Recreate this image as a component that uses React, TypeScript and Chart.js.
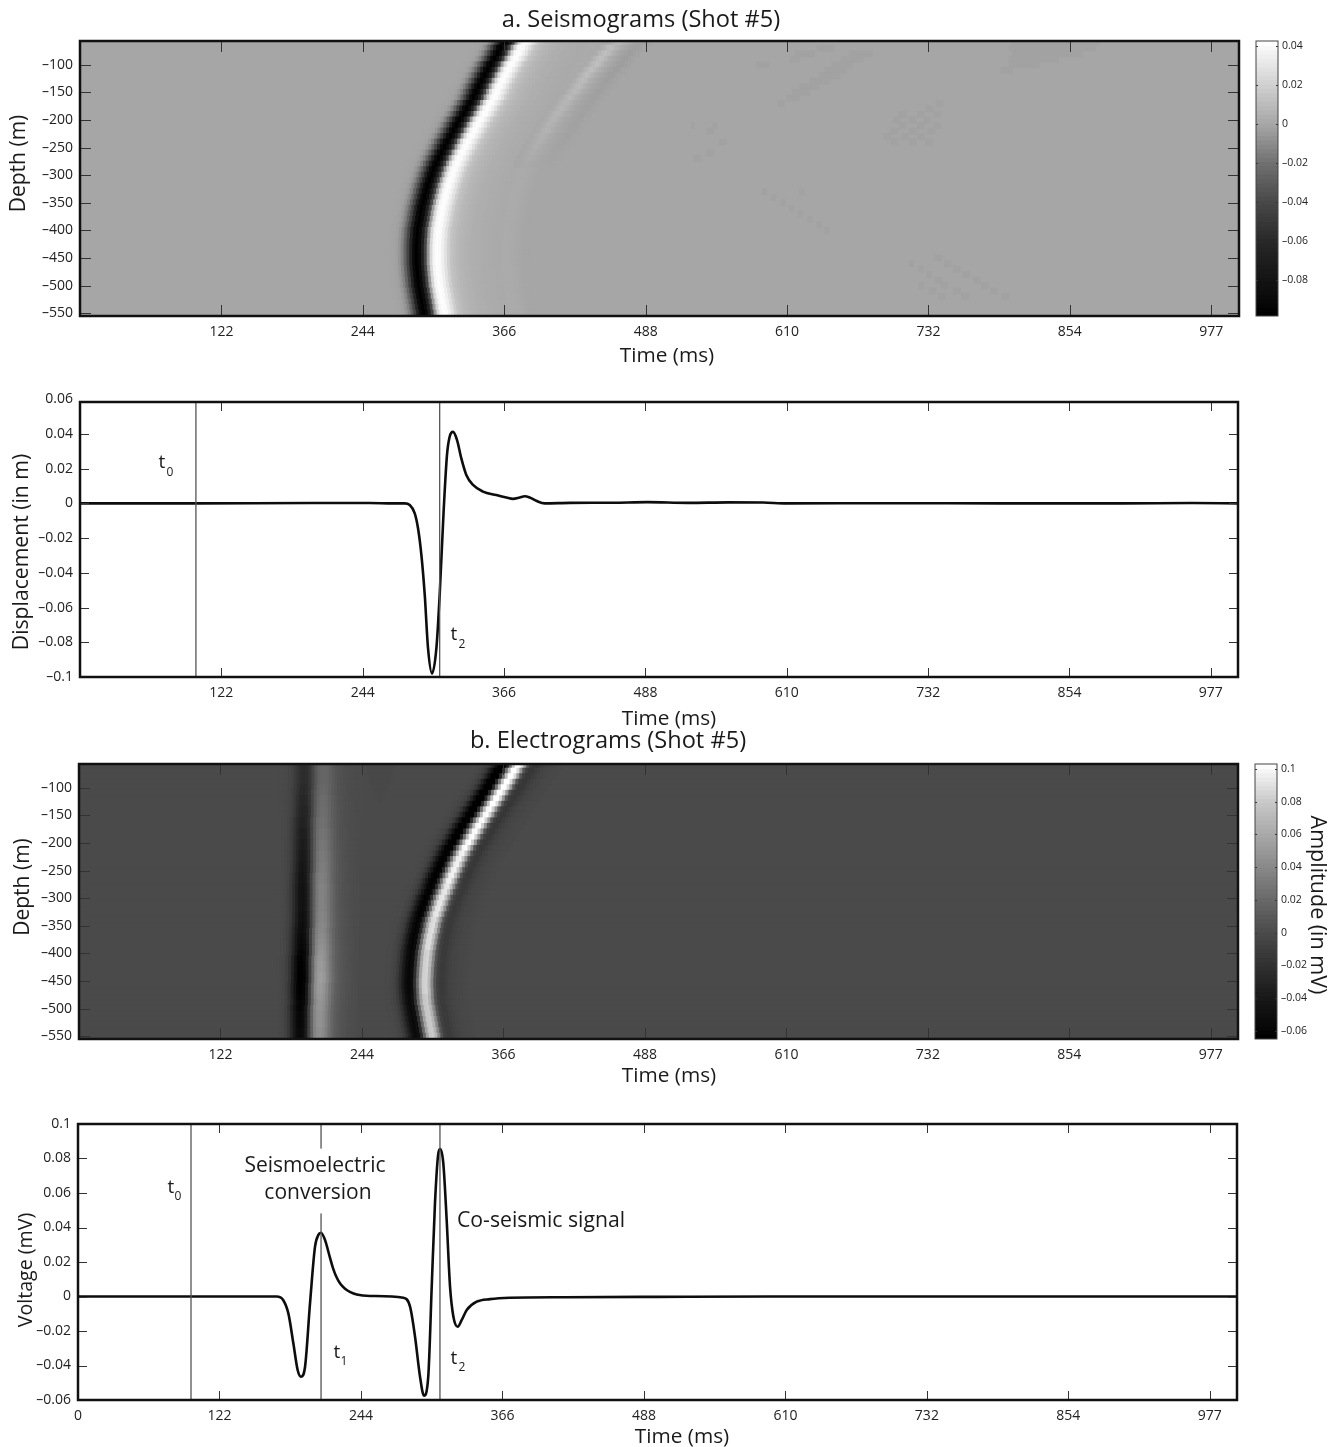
import React, { useEffect, useRef } from "react";
import { Chart, registerables } from "chart.js";

Chart.register(...registerables);

const FONT = '"Open Sans", "Noto Sans", sans-serif';

const timeTicks = [122.07, 244.14, 366.21, 488.28, 610.35, 732.42, 854.49, 976.56];
const timeLabels = ["122", "244", "366", "488", "610", "732", "854", "977"];
const timeTicksZero = [0, ...timeTicks];
const timeLabelsZero = ["0", ...timeLabels];
const depthTicks = [-100, -150, -200, -250, -300, -350, -400, -450, -500, -550];
const displacementTicks = [0.06, 0.04, 0.02, 0, -0.02, -0.04, -0.06, -0.08, -0.1];
const voltageTicks = [0.1, 0.08, 0.06, 0.04, 0.02, 0, -0.02, -0.04, -0.06];
const seisBarTicks = [0.04, 0.02, 0, -0.02, -0.04, -0.06, -0.08];
const elecBarTicks = [0.1, 0.08, 0.06, 0.04, 0.02, 0, -0.02, -0.04, -0.06];

const depthRows = [
  -60, -70, -80, -90, -100, -110, -120, -130, -140, -150, -160, -170, -180, -190, -200, -210, -220,
  -230, -240, -250, -260, -270, -280, -290, -300, -310, -320, -330, -340, -350, -360, -370, -380,
  -390, -400, -410, -420, -430, -440, -450, -460, -470, -480, -490, -500, -510, -520, -530, -540, -550,
];

// Seismograms: arrival (trough time, ms) read per depth row
const seisArrival = [
  366.7, 363.2, 360.7, 358, 354.6, 352, 349.4, 346.9, 344.3, 342.1, 340, 336.9, 333.9, 331.3, 327.9,
  325.3, 322.7, 320.1, 317.1, 314.9, 312.3, 309.8, 307.6, 305.4, 303.7, 302, 300.3, 299, 297.7, 296.4,
  295.1, 294.2, 293.4, 292.5, 291.6, 291.4, 291, 290.8, 290.8, 290.8, 290.8, 291.2, 291.6, 292.1,
  292.5, 293.4, 294.2, 295.1, 295.9, 296.8,
];
const seisWavelet = [
  [-25, 0], [-22.5, -0.0003], [-20, -0.0007], [-17.5, -0.002], [-15, -0.0057], [-12.5, -0.013],
  [-10, -0.026], [-7.5, -0.043], [-5, -0.067], [-2.5, -0.09], [0, -0.0994], [2.5, -0.09], [5, -0.07],
  [7.5, -0.041], [10, -0.005], [12.5, 0.024], [15, 0.038], [17.5, 0.0415], [20, 0.04], [22.5, 0.035],
  [25, 0.028], [27.5, 0.02], [30, 0.014], [32.5, 0.0112], [35, 0.009], [37.5, 0.0075], [40, 0.0065],
  [42.5, 0.0057], [45, 0.005], [47.5, 0.0045], [50, 0.004], [52.5, 0.0036], [55, 0.0033],
  [57.5, 0.003], [60, 0.0028], [62.5, 0.0025], [65, 0.0022], [67.5, 0.002], [70, 0.0018],
  [72.5, 0.002], [75, 0.0022], [77.5, 0.0024], [80, 0.0022], [82.5, 0.0018], [85, 0.0014],
  [87.5, 0.001], [90, 0.0006], [92.5, 0.0002], [95, 0],
];
const ghostArrival = [
  465.2, 458.3, 454, 449.6, 446.2, 441.9, 437.6, 434.1, 430.7, 427.2, 422.9, 419.4, 416, 412.5, 409.1,
  405.6, 403, 399.6, 397, 393.5, 391, 388.4, 385.8,
];
const ghostGain = [
  0.75, 0.9, 1, 1, 1, 0.95, 0.9, 0.85, 0.8, 0.75, 0.7, 0.65, 0.6, 0.6, 0.55, 0.5, 0.5, 0.45, 0.4, 0.35,
  0.3, 0.25, 0.15,
];
const ghostWavelet = [
  [-10, 0.002], [-7.5, 0.004], [-5, 0.007], [-2.5, 0.01], [0, 0.012], [2.5, 0.01], [5, 0.007],
  [7.5, 0.004], [10, 0.002], [12.5, 0], [15, -0.001], [17.5, -0.002], [20, -0.003], [22.5, -0.003],
  [25, -0.002], [27.5, -0.001],
];
// faint patches: [depth, start ms, end ms]
const seisPatches = [
  [-80, 664, 684], [-90, 657, 676], [-100, 649, 667], [-110, 643, 662], [-120, 638, 656], [-130, 630, 647],
  [-140, 621, 638], [-150, 615, 630], [-160, 610, 621], [-170, 602, 608],
  [-60, 804, 880], [-70, 802, 877], [-80, 805, 865], [-90, 802, 845], [-100, 802, 828], [-110, 795, 805],
  [-70, 636, 651], [-80, 617, 634], [-90, 613, 621], [-100, 584, 595],
  [-170, 739, 745], [-180, 730, 736], [-190, 723, 729], [-190, 737, 743], [-190, 707, 713],
  [-200, 702, 708], [-200, 716, 722], [-200, 728, 734], [-210, 707, 713], [-210, 723, 729], [-210, 737, 743],
  [-220, 700, 706], [-220, 716, 722], [-220, 732, 738], [-230, 694, 700], [-230, 709, 715], [-230, 723, 729],
  [-240, 700, 706], [-240, 716, 722], [-240, 730, 736],
  [-210, 546, 550], [-210, 528, 530], [-220, 541, 547], [-240, 552, 558], [-260, 541, 547], [-270, 530, 536],
  [-330, 589, 593], [-330, 621, 625], [-340, 597, 601], [-350, 605, 609], [-360, 612, 616], [-370, 620, 624],
  [-380, 628, 632], [-390, 636, 640], [-400, 643, 647],
  [-450, 738, 744], [-460, 746, 752], [-460, 716, 720], [-470, 754, 760], [-470, 724, 728], [-480, 762, 768],
  [-480, 731, 735], [-490, 771, 777], [-490, 738, 744], [-500, 778, 784], [-500, 743, 749], [-500, 724, 728],
  [-510, 786, 792], [-510, 754, 760], [-510, 733, 739], [-520, 796, 802], [-520, 761, 767], [-520, 741, 747],
];

// Electrograms
const conversionArrival = [
  194.5, 194.5, 194.5, 194.5, 194.5, 194, 194, 194, 194, 194, 193.5, 193.5, 193.5, 193.5, 193.5, 193.5,
  193.5, 193.5, 193.5, 193.5, 193, 193, 193, 193, 193, 193, 193, 193, 193, 193, 192.5, 192.5, 192.5,
  192.5, 192.5, 192, 192, 192, 192, 192, 191.5, 191.5, 191.5, 191.5, 191, 191, 191, 191, 191, 191,
];
const conversionGain = [
  0.5, 0.5, 0.5, 0.5, 0.55, 0.55, 0.6, 0.6, 0.65, 0.65, 0.7, 0.7, 0.75, 0.75, 0.8, 0.8, 0.85, 0.85, 0.9,
  0.9, 0.95, 0.95, 1, 1, 1, 1, 1, 1.05, 1.05, 1.1, 1.1, 1.15, 1.2, 1.25, 1.3, 1.35, 1.4, 1.4, 1.45, 1.45,
  1.4, 1.4, 1.35, 1.3, 1.3, 1.25, 1.25, 1.25, 1.2, 1.2,
];
const conversionWavelet = [
  [-20, -0.0002], [-17.5, -0.001], [-15, -0.0025], [-12.5, -0.006], [-10, -0.012], [-7.5, -0.023],
  [-5, -0.034], [-2.5, -0.044], [0, -0.0465], [2.5, -0.043], [5, -0.03], [7.5, -0.006], [10, 0.014],
  [12.5, 0.03], [15, 0.036], [17.5, 0.037], [20, 0.034], [22.5, 0.028], [25, 0.021], [27.5, 0.015],
  [30, 0.01], [32.5, 0.0075], [35, 0.0055], [37.5, 0.0042], [40, 0.003], [42.5, 0.0022], [45, 0.0015],
  [47.5, 0.001],
];
const coseismicArrival = [
  365, 361.5, 358.9, 355.5, 352.9, 349.4, 346.4, 343.4, 340, 337.4, 333.9, 330.9, 327.9, 325.3, 322.3,
  319.2, 316.7, 314.1, 311.9, 309.8, 307.6, 305.4, 303.7, 301.6, 299.4, 297.7, 296, 294.2, 292.5, 291.2,
  290.3, 289, 288.2, 287.3, 286.5, 286, 285.6, 285.2, 285, 284.7, 284.7, 285, 285.2, 285.6, 286.5, 287.3,
  288.2, 289, 289.9, 290.8,
];
const coseismicGain = [
  1.25, 1.25, 1.25, 1.25, 1.25, 1.25, 1.25, 1.25, 1.2, 1.2, 1.2, 1.2, 1.2, 1.2, 1.2, 1.2, 1.15, 1.15, 1.15,
  1.15, 1.15, 1.15, 1.1, 1.1, 1.1, 1.1, 1.1, 1.1, 1.05, 1.05, 1.05, 1.05, 1.05, 1.05, 1, 1, 1, 1, 1, 1, 1,
  1, 0.95, 0.95, 0.95, 0.95, 0.95, 0.95, 0.95, 0.95,
];
const coseismicWavelet = [
  [-20, -0.0005], [-17.5, -0.001], [-15, -0.003], [-12.5, -0.0055], [-10, -0.012], [-7.5, -0.024],
  [-5, -0.038], [-2.5, -0.052], [0, -0.058], [2.5, -0.052], [5, -0.022], [7.5, 0.02], [10, 0.06],
  [12.5, 0.083], [15, 0.085], [17.5, 0.07], [20, 0.04], [22.5, 0.006], [25, -0.008], [27.5, -0.012],
  [30, -0.012], [32.5, -0.009], [35, -0.0065], [37.5, -0.0045], [40, -0.0035], [42.5, -0.0025], [45, -0.002],
  [47.5, -0.0015], [50, -0.001],
];
const elecPatches = [
  [-60, 248, 272], [-70, 249, 271], [-80, 250, 270], [-90, 252, 268], [-100, 254, 266], [-110, 256, 264],
  [-120, 258, 262],
];

// Traces
const displacementTrace = [
  [0, 0], [100, 0], [200, 0.0002], [250, 0.0002], [270, 0], [280.4, 0], [284.7, -0.0009], [289, -0.0056],
  [291.9, -0.0143], [294.8, -0.0296], [297.7, -0.0526], [300.5, -0.0831], [304, -0.098], [307.8, -0.0831],
  [310.6, -0.0526], [314, -0.0047], [316.9, 0.0278], [319.2, 0.0384], [322.1, 0.0412], [325.6, 0.0365],
  [329.3, 0.0259], [333.6, 0.0164], [339.4, 0.0106], [348, 0.0068], [359.5, 0.0048], [368.2, 0.0034],
  [373.9, 0.0026], [379.7, 0.0034], [384, 0.0041], [388.3, 0.0034], [394, 0.0015], [401.3, 0], [422.8, 0.0003],
  [460, 0.0004], [490, 0.0007], [525, 0.0003], [560, 0.0006], [590, 0.0005], [610, 0], [700, 0.0001], [800, 0],
  [900, 0], [960, 0.0002], [1000, 0],
];
const voltageTrace = [
  [0, 0], [100, 0], [171.3, 0], [177, -0.002], [181.5, -0.0098], [185.8, -0.0271], [189.5, -0.0426],
  [192.4, -0.0465], [195.9, -0.0407], [200.2, -0.0039], [204.5, 0.0289], [207.4, 0.0357], [209.7, 0.037],
  [213.1, 0.0328], [217.4, 0.0225], [220, 0.0165], [223.2, 0.011], [226.5, 0.0072], [230.4, 0.0045], [235, 0.0025],
  [240.5, 0.0011], [252, 0.0003],
  [280.7, -0.0007], [286.5, -0.0059], [290.8, -0.0233], [295.1, -0.0465], [298.5, -0.0575], [302.2, -0.0465],
  [305.2, 0.0057], [308, 0.054], [310.9, 0.083], [312.6, 0.0855], [315.2, 0.0772], [318.1, 0.0443],
  [321, 0.0057], [323.9, -0.0117], [327.6, -0.0175], [331.1, -0.0136], [335.4, -0.0078], [344, -0.003],
  [355.5, -0.0015], [372.7, -0.0007], [420, -0.0004], [500, -0.0002], [600, 0], [800, 0], [1000, 0],
];
const displacementMarkers = [100.1, 310.6];
const voltageMarkers = [97.5, 209.7, 312.3];

const seisStops = [
  [-0.0985, 0], [-0.06, 40], [-0.04, 72], [-0.02, 112], [0, 166], [0.02, 208], [0.0425, 255],
];
const elecStops = [
  [-0.065, 0], [-0.04, 24], [-0.02, 48], [0, 74], [0.02, 104], [0.04, 136], [0.06, 168], [0.08, 200], [0.103, 255],
];

function shade(v: number, stops: number[][]) {
  let g = stops[0][1];
  if (v >= stops[stops.length - 1][0]) g = stops[stops.length - 1][1];
  else
    for (let i = 0; i < stops.length - 1; i++) {
      const [a, ga] = stops[i];
      const [b, gb] = stops[i + 1];
      if (v >= a && v < b) g = ga + ((v - a) / (b - a)) * (gb - ga);
    }
  const c = Math.round(g);
  return `rgb(${c},${c},${c})`;
}

type Cells = { data: any[]; colors: string[] };

function pushCell(c: Cells, depth: number, a: number, b: number, v: number, stops: number[][]) {
  c.data.push({ x: [a, b], y: depth });
  c.colors.push(shade(v, stops));
}

function pushWave(c: Cells, times: number[], wavelet: number[][], gains: number[] | null, stops: number[][]) {
  times.forEach((t, i) => {
    const gain = gains ? gains[i] : 1;
    wavelet.forEach(([off, amp]) => {
      pushCell(c, depthRows[i], t + off - 1.25, t + off + 1.55, amp * gain, stops);
    });
  });
}

function seismogramCells() {
  const c: Cells = { data: [], colors: [] };
  depthRows.forEach((d) => pushCell(c, d, 0, 1001, 0, seisStops));
  seisPatches.forEach(([d, a, b]) => pushCell(c, d, a, b, -0.0015, seisStops));
  pushWave(c, seisArrival, seisWavelet, null, seisStops);
  pushWave(c, ghostArrival, ghostWavelet, ghostGain, seisStops);
  return c;
}

function electrogramCells() {
  const c: Cells = { data: [], colors: [] };
  depthRows.forEach((d) => pushCell(c, d, 0, 1001, 0, elecStops));
  elecPatches.forEach(([d, a, b]) => pushCell(c, d, a, b, -0.0015, elecStops));
  pushWave(c, conversionArrival, conversionWavelet, conversionGain, elecStops);
  pushWave(c, coseismicArrival, coseismicWavelet, coseismicGain, elecStops);
  return c;
}

function colorbarCells(min: number, max: number, stops: number[][]) {
  const c: Cells = { data: [], colors: [] };
  const n = 64;
  for (let i = 0; i < n; i++) {
    const v = min + ((i + 0.5) / n) * (max - min);
    pushCell(c, v, 0, 1, v, stops);
  }
  return c;
}

type Txt = {
  text: string;
  x: number;
  y: number;
  size: number;
  rot?: number;
  align?: CanvasTextAlign;
  bg?: boolean;
};

function overlay(items: Txt[], ox: number, oy: number, tickLen: number, frameW: number, frameColor: string) {
  return {
    id: "overlay",
    afterDatasetsDraw(chart: any) {
      const { ctx, chartArea: a, scales } = chart;
      ctx.save();
      ctx.strokeStyle = "#333";
      ctx.lineWidth = 1;
      ctx.beginPath();
      const sx = scales.x;
      if (sx && sx.options.display !== false) {
        sx.ticks.forEach((t: any) => {
          const p = Math.round(sx.getPixelForValue(t.value)) + 0.5;
          if (p - a.left < 3) return;
          ctx.moveTo(p, a.top);
          ctx.lineTo(p, a.top + tickLen);
          ctx.moveTo(p, a.bottom);
          ctx.lineTo(p, a.bottom - tickLen);
        });
      }
      const sy = scales.y;
      sy.ticks.forEach((t: any) => {
        const p = Math.round(sy.getPixelForValue(t.value)) + 0.5;
        if (p - a.top < 3 || a.bottom - p < 1) return;
        ctx.moveTo(a.left, p);
        ctx.lineTo(a.left + tickLen, p);
        ctx.moveTo(a.right, p);
        ctx.lineTo(a.right - tickLen, p);
      });
      ctx.stroke();
      ctx.strokeStyle = frameColor;
      ctx.lineWidth = frameW;
      ctx.strokeRect(a.left, a.top, a.right - a.left, a.bottom - a.top);
      items.forEach((it) => {
        ctx.save();
        ctx.font = `${it.size}px ${FONT}`;
        ctx.textAlign = it.align || "center";
        ctx.textBaseline = "middle";
        ctx.translate(it.x - ox, it.y - oy);
        if (it.rot) ctx.rotate(it.rot);
        if (it.bg) {
          const w = ctx.measureText(it.text).width;
          ctx.fillStyle = "#fff";
          ctx.fillRect(-w / 2 - 2, -it.size * 0.85, w + 4, it.size * 1.8);
        }
        ctx.fillStyle = "#1a1a1a";
        ctx.fillText(it.text, 0, 0);
        ctx.restore();
      });
      ctx.restore();
    },
  };
}

type PlotBox = { left: number; right: number; top: number; bottom: number };
type Band = { top: number; height: number };
const MAIN_WIDTH = 1245;
const AXIS_W = 60;
const AXIS_H = 30;

function tickFmt(v: number) {
  return String(v).replace("-", "\u2013");
}

function mainOptions(
  box: PlotBox,
  band: Band,
  yMin: number,
  yMax: number,
  yTicks: number[],
  xTicks: number[],
  xLabels: string[],
  xMax: number,
  indexY: boolean
) {
  const x: any = {
    type: "linear",
    min: 0,
    max: xMax,
    offset: false,
    grid: { display: false, drawTicks: false },
    border: { display: false },
    afterBuildTicks: (s: any) => {
      s.ticks = xTicks.map((value) => ({ value }));
    },
    afterFit: (s: any) => {
      s.height = AXIS_H;
    },
    ticks: {
      autoSkip: false,
      maxRotation: 0,
      minRotation: 0,
      padding: 8,
      color: "#222",
      font: { family: FONT, size: 14 },
      callback: (_v: any, i: number) => xLabels[i],
    },
  };
  const y: any = {
    type: "linear",
    min: yMin,
    max: yMax,
    offset: false,
    grid: { display: false, drawTicks: false },
    border: { display: false },
    afterBuildTicks: (s: any) => {
      s.ticks = yTicks.map((value) => ({ value }));
    },
    afterFit: (s: any) => {
      s.width = AXIS_W;
    },
    ticks: {
      autoSkip: false,
      padding: 7,
      color: "#222",
      font: { family: FONT, size: 14 },
      callback: (v: number) => tickFmt(v),
    },
  };
  return {
    indexAxis: indexY ? "y" : "x",
    responsive: false,
    maintainAspectRatio: false,
    animation: false,
    devicePixelRatio: 1,
    events: [],
    layout: {
      padding: {
        left: box.left - AXIS_W,
        right: MAIN_WIDTH - box.right,
        top: box.top - band.top,
        bottom: band.top + band.height - box.bottom - AXIS_H,
      },
    },
    plugins: { legend: { display: false }, tooltip: { enabled: false }, title: { display: false } },
    scales: { x, y },
  };
}

function colorbarOptions(box: PlotBox, band: Band, left: number, min: number, max: number, ticks: number[]) {
  const W = 60;
  return {
    indexAxis: "y",
    responsive: false,
    maintainAspectRatio: false,
    animation: false,
    devicePixelRatio: 1,
    events: [],
    layout: {
      padding: {
        left: box.left - left,
        right: 1339 - box.right - W,
        top: box.top - band.top,
        bottom: band.top + band.height - box.bottom,
      },
    },
    plugins: { legend: { display: false }, tooltip: { enabled: false } },
    scales: {
      x: { type: "linear", min: 0, max: 1, display: false },
      y: {
        type: "linear",
        position: "right",
        min,
        max,
        offset: false,
        grid: { display: false, drawTicks: false },
        border: { display: false },
        afterBuildTicks: (s: any) => {
          s.ticks = ticks.map((value) => ({ value }));
        },
        afterFit: (s: any) => {
          s.width = W;
        },
        ticks: {
          autoSkip: false,
          padding: 4,
          color: "#222",
          font: { family: FONT, size: 10.5 },
          callback: (v: number) => tickFmt(v),
        },
      },
    },
  };
}

function cellDataset(c: Cells, thickness: number) {
  return {
    data: c.data,
    backgroundColor: c.colors,
    borderWidth: 0,
    barThickness: thickness,
    grouped: false,
  };
}

function traceDatasets(trace: number[][], markers: number[], yMin: number, yMax: number) {
  const list: any[] = markers.map((t) => ({
    data: [
      { x: t, y: yMin },
      { x: t, y: yMax },
    ],
    borderColor: "#555",
    borderWidth: 1.3,
    pointRadius: 0,
  }));
  list.push({
    data: trace.map(([x, y]) => ({ x, y })),
    borderColor: "#0d0d0d",
    borderWidth: 2.6,
    pointRadius: 0,
    cubicInterpolationMode: "monotone",
    clip: false,
  });
  return list;
}

const bandA = { top: 0, height: 375 };
const bandB = { top: 375, height: 355 };
const bandC = { top: 730, height: 365 };
const bandD = { top: 1095, height: 352 };

const boxA = { left: 80, right: 1239, top: 41, bottom: 316 };
const boxB = { left: 80, right: 1238, top: 402, bottom: 677 };
const boxC = { left: 79, right: 1238, top: 764, bottom: 1039 };
const boxD = { left: 78, right: 1237, top: 1124, bottom: 1400 };
const barA = { left: 1256, right: 1278, top: 41, bottom: 316 };
const barC = { left: 1255, right: 1277, top: 764, bottom: 1039 };

const UP = -Math.PI / 2;

const textA: Txt[] = [
  { text: "a. Seismograms (Shot #5)", x: 641, y: 20.5, size: 23.6 },
  { text: "Depth (m)", x: 19, y: 163.5, size: 21, rot: UP },
  { text: "Time (ms)", x: 667, y: 356.5, size: 20.8 },
];
const textB: Txt[] = [
  { text: "Displacement (in m)", x: 22, y: 552, size: 21.2, rot: UP },
  { text: "Time (ms)", x: 669, y: 719.5, size: 20.8 },
  { text: "t", x: 162, y: 463, size: 19 },
  { text: "0", x: 170, y: 473, size: 12 },
  { text: "t", x: 454, y: 635, size: 19 },
  { text: "2", x: 462, y: 645, size: 12 },
];
const textC: Txt[] = [
  { text: "b. Electrograms (Shot #5)", x: 608, y: 741.5, size: 23.6 },
  { text: "Depth (m)", x: 23, y: 887, size: 21, rot: UP },
  { text: "Time (ms)", x: 669, y: 1076.5, size: 20.8 },
];
const textD: Txt[] = [
  { text: "Voltage (mV)", x: 26, y: 1270, size: 19.6, rot: UP },
  { text: "Time (ms)", x: 682, y: 1437, size: 20.8 },
  { text: "Seismoelectric", x: 315, y: 1166.5, size: 21, bg: true },
  { text: "conversion", x: 318, y: 1193.5, size: 21, bg: true },
  { text: "Co-seismic signal", x: 541, y: 1221, size: 21.2 },
  { text: "t", x: 171, y: 1188, size: 19 },
  { text: "0", x: 178, y: 1197, size: 12 },
  { text: "t", x: 337, y: 1353, size: 19 },
  { text: "1", x: 344, y: 1362, size: 12 },
  { text: "t", x: 454, y: 1359, size: 19 },
  { text: "2", x: 462, y: 1368, size: 12 },
];
const textBarC: Txt[] = [{ text: "Amplitude (in mV)", x: 1317, y: 905, size: 21.5, rot: Math.PI / 2 }];

export default function App() {
  const a = useRef<HTMLCanvasElement>(null);
  const aBar = useRef<HTMLCanvasElement>(null);
  const b = useRef<HTMLCanvasElement>(null);
  const c = useRef<HTMLCanvasElement>(null);
  const cBar = useRef<HTMLCanvasElement>(null);
  const d = useRef<HTMLCanvasElement>(null);

  useEffect(() => {
    const charts: Chart[] = [];
    const seisMin = -0.0985;
    const seisMax = 0.0425;
    const elecMin = -0.065;
    const elecMax = 0.103;
    charts.push(
      new Chart(a.current as any, {
        type: "bar",
        data: { datasets: [cellDataset(seismogramCells(), 6.2)] },
        options: mainOptions(boxA, bandA, -555, -57, depthTicks, timeTicks, timeLabels, 1000.5, true) as any,
        plugins: [overlay(textA, 0, bandA.top, 11, 2.5, "#111")],
      })
    );
    charts.push(
      new Chart(aBar.current as any, {
        type: "bar",
        data: { datasets: [cellDataset(colorbarCells(seisMin, seisMax, seisStops), 5)] },
        options: colorbarOptions(barA, bandA, MAIN_WIDTH, seisMin, seisMax, seisBarTicks) as any,
        plugins: [overlay([], MAIN_WIDTH, bandA.top, 2, 1, "#444")],
      })
    );
    charts.push(
      new Chart(b.current as any, {
        type: "line",
        data: { datasets: traceDatasets(displacementTrace, displacementMarkers, -0.1, 0.0584) },
        options: mainOptions(boxB, bandB, -0.1, 0.0584, displacementTicks, timeTicks, timeLabels, 1000, false) as any,
        plugins: [overlay(textB, 0, bandB.top, 9, 2.5, "#111")],
      })
    );
    charts.push(
      new Chart(c.current as any, {
        type: "bar",
        data: { datasets: [cellDataset(electrogramCells(), 6.2)] },
        options: mainOptions(boxC, bandC, -555, -57, depthTicks, timeTicks, timeLabels, 1000, true) as any,
        plugins: [overlay(textC, 0, bandC.top, 11, 2.5, "#111")],
      })
    );
    charts.push(
      new Chart(cBar.current as any, {
        type: "bar",
        data: { datasets: [cellDataset(colorbarCells(elecMin, elecMax, elecStops), 5)] },
        options: colorbarOptions(barC, bandC, MAIN_WIDTH, elecMin, elecMax, elecBarTicks) as any,
        plugins: [overlay(textBarC, MAIN_WIDTH, bandC.top, 2, 1, "#444")],
      })
    );
    charts.push(
      new Chart(d.current as any, {
        type: "line",
        data: { datasets: traceDatasets(voltageTrace, voltageMarkers, -0.06, 0.1) },
        options: mainOptions(boxD, bandD, -0.06, 0.1, voltageTicks, timeTicksZero, timeLabelsZero, 1000, false) as any,
        plugins: [overlay(textD, 0, bandD.top, 9, 2.5, "#111")],
      })
    );
    return () => charts.forEach((ch) => ch.destroy());
  }, []);

  const cv = (left: number, band: Band, width: number) => ({
    position: "absolute" as const,
    left,
    top: band.top,
    width,
    height: band.height,
    display: "block",
    filter: "blur(0.4px)",
  });

  return (
    <div style={{ position: "absolute", left: 0, top: 0, width: 1339, height: 1447, background: "#fff", overflow: "hidden" }}>
      <canvas ref={a} width={MAIN_WIDTH} height={bandA.height} style={cv(0, bandA, MAIN_WIDTH)} />
      <canvas ref={aBar} width={1339 - MAIN_WIDTH} height={bandA.height} style={cv(MAIN_WIDTH, bandA, 1339 - MAIN_WIDTH)} />
      <canvas ref={b} width={MAIN_WIDTH} height={bandB.height} style={cv(0, bandB, MAIN_WIDTH)} />
      <canvas ref={c} width={MAIN_WIDTH} height={bandC.height} style={cv(0, bandC, MAIN_WIDTH)} />
      <canvas ref={cBar} width={1339 - MAIN_WIDTH} height={bandC.height} style={cv(MAIN_WIDTH, bandC, 1339 - MAIN_WIDTH)} />
      <canvas ref={d} width={MAIN_WIDTH} height={bandD.height} style={cv(0, bandD, MAIN_WIDTH)} />
    </div>
  );
}
